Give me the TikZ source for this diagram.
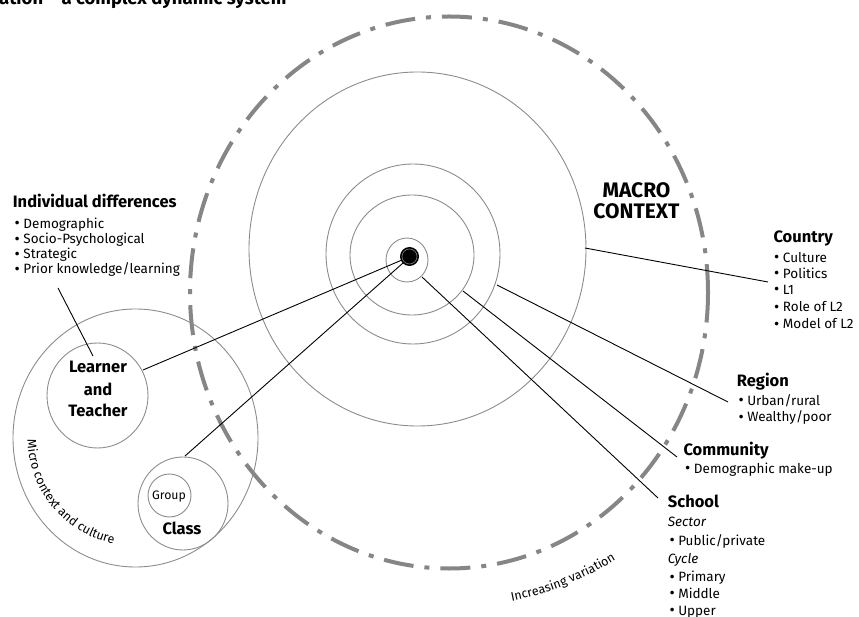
\documentclass[tikz,border=0pt]{standalone}
\usepackage{fontspec}
\setmainfont{Fira Sans}
\usetikzlibrary{decorations.text}

\definecolor{ringgray}{HTML}{8C8C8C}
\definecolor{dashgray}{HTML}{868686}

% list bullet, a little heavier than the text face's own
\newcommand\listdot{{\fontsize{16}{15}\selectfont\raisebox{-0.6pt}{•}}\ }

\tikzset{
  ring/.style={draw=ringgray, line width=0.9pt},
  macroring/.style={draw=dashgray, line width=4pt,
    dash pattern=on 30pt off 11pt on 5pt off 11pt},
  link/.style={draw=black, line width=0.9pt},
  head/.style={font=\fontsize{16.5}{18}\selectfont\bfseries, inner sep=0pt, anchor=base west},
  item/.style={font=\fontsize{13.5}{15}\selectfont, inner sep=0pt, anchor=base west},
  sub/.style={font=\fontsize{13.5}{15}\selectfont\itshape, inner sep=0pt, anchor=base west},
  big/.style={font=\fontsize{16.5}{18}\selectfont\bfseries, inner sep=0pt, anchor=base},
  macrolabel/.style={font=\fontsize{21}{23}\selectfont\bfseries, inner sep=0pt, anchor=base},
  small/.style={font=\fontsize{12.3}{14}\selectfont, inner sep=0pt, anchor=base},
  title/.style={font=\fontsize{18.5}{20}\selectfont\bfseries, inner sep=0pt, anchor=base west},
}

\begin{document}
\begin{tikzpicture}[x=1pt,y=-1pt]
\useasboundingbox (0,0) rectangle (859,617);
\clip (0,0) rectangle (859,617);

% title line, running off the top-left edge
\node[title] (title) at (-1,4.5) {ation – a complex dynamic system};

% concentric context rings
\coordinate (core) at (409.5,256.5);
\coordinate (r1) at (407,260);
\coordinate (r2) at (412,255);
\coordinate (r3) at (413,254);
\coordinate (r4) at (417.5,249);
\coordinate (macro) at (449,292.5);
\draw[ring] (r1) ellipse [x radius=21, y radius=22];
\draw[ring] (r2) ellipse [x radius=62, y radius=60];
\draw[ring] (r3) ellipse [x radius=87, y radius=90];
\draw[ring] (r4) ellipse [x radius=168.5, y radius=177];
\fill (core) circle [radius=9.5];
\draw[draw=gray, line width=0.6pt] (core) circle [radius=7.5];
\draw[macroring] (macro) ellipse [x radius=259, y radius=276];

% micro context circles
\coordinate (micro) at (135.5,438);
\coordinate (lt) at (97.5,395.5);
\coordinate (cls) at (183,503.5);
\coordinate (grp) at (169.5,495.5);
\draw[ring] (micro) ellipse [x radius=122.5, y radius=129];
\draw[ring] (lt) ellipse [x radius=50.5, y radius=52.5];
\draw[ring] (cls) ellipse [x radius=45, y radius=46.5];
\draw[ring] (grp) circle [radius=21.5];

\node[big] (lt1) at (98,373) {Learner};
\node[big] (lt2) at (98,395) {and};
\node[big] (lt3) at (98,416) {Teacher};
\node[big] (clsname) at (182,534) {Class};
\node[small] (grpname) at (169,499) {Group};

\node[macrolabel] (mac1) at (636.5,198) {MACRO};
\node[macrolabel] (mac2) at (636.5,219) {CONTEXT};

% curved captions
\path[decorate, decoration={text along path, text align=left,
  text={|\fontsize{12.5}{14}\selectfont|Micro context and culture}}]
  (micro) ++(179:108) arc [start angle=179, end angle=80, radius=108];
\path[decorate, decoration={text along path, text align=left,
  text={|\fontsize{12.5}{14}\selectfont|Increasing variation}}]
  (macro) ++(78.5:315) arc [start angle=78.5, end angle=45, radius=315];

% label blocks
\node[head] (ind) at (12.7,208) {Individual differences};
\foreach \t/\y [count=\i] in {Demographic/228.3, Socio-Psychological/244,
    Strategic/258.5, {Prior knowledge/learning}/273.5}
  \node[item] (ind\i) at (14.5,\y) {\listdot\t};

\node[head] (country) at (773.3,243) {Country};
\foreach \t/\y [count=\i] in {Culture/262.3, Politics/278.3, L1/294.3,
    Role of L2/312, Model of L2/329}
  \node[item] (country\i) at (774,\y) {\listdot\t};

\node[head] (region) at (736.7,386) {Region};
\foreach \t/\y [count=\i] in {{Urban/rural}/405, {Wealthy/poor}/421.7}
  \node[item] (region\i) at (738.3,\y) {\listdot\t};

\node[head] (community) at (683.3,455) {Community};
\node[item] (community1) at (685,473.3) {\listdot Demographic make-up};

\node[head] (school) at (667.7,507.7) {School};
\node[sub] (sector) at (667.7,526.7) {Sector};
\node[item] (school1) at (669.3,545) {\listdot Public/private};
\node[sub] (cycle) at (667.7,563.3) {Cycle};
\foreach \t/\y [count=\i] in {Primary/581.7, Middle/598.3, Upper/615}
  \node[item] (school\the\numexpr\i+1\relax) at (669.3,\y) {\listdot\t};

% connector end points
\coordinate (countryEnd) at (768,282);
\coordinate (countryStart) at (585,248);
\coordinate (regionEnd) at (728,402);
\coordinate (regionStart) at (497,285);
\coordinate (communityEnd) at (677,457);
\coordinate (communityStart) at (463,291);
\coordinate (schoolEnd) at (658,498);
\coordinate (schoolStart) at (422,277);
\coordinate (ltStart) at (402,260);
\coordinate (ltEnd) at (143,370);
\coordinate (clsStart) at (403,263);
\coordinate (clsEnd) at (185,456);
\coordinate (indStart) at (58,288);
\coordinate (indEnd) at (93,356);

\draw[link] (countryStart) -- (countryEnd);
\draw[link] (regionStart) -- (regionEnd);
\draw[link] (communityStart) -- (communityEnd);
\draw[link] (schoolStart) -- (schoolEnd);
\draw[link] (ltStart) -- (ltEnd);
\draw[link] (clsStart) -- (clsEnd);
\draw[link] (indStart) -- (indEnd);
\end{tikzpicture}
\end{document}
